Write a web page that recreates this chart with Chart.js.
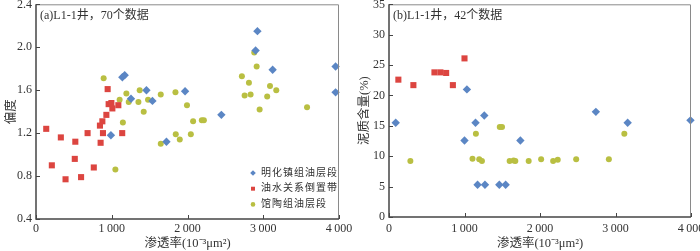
<!DOCTYPE html>
<html>
<head>
<meta charset="utf-8">
<script src="https://cdn.jsdelivr.net/npm/chart.js@4.4.1/dist/chart.umd.min.js"></script>
<style>
    html, body { margin: 0; padding: 0; background: #fff; }
    .wrap { position: relative; width: 700px; height: 251px; overflow: hidden; }
    #skewChart { position: absolute; left: 0; top: 0; }
    #clayChart { position: absolute; left: 350px; top: 0; }
</style>
</head>
<body>
<div class="wrap">
    <canvas id="skewChart" width="362" height="251"></canvas>
    <canvas id="clayChart" width="350" height="251"></canvas>
</div>
<script>
// Series names
const seriesNames = ['明化镇组油层段', '油水关系倒置带', '馆陶组油层段'];

// (a) permeability vs skewness
const skewMingPerm = [1140, 1171, 1254, 1458, 1537, 1968, 989, 1722, 2447, 2923, 2899, 3124, 3955, 3955];
const skewMingVal  = [1.72, 1.74, 1.52, 1.60, 1.50, 1.59, 1.18, 1.12, 1.37, 2.15, 1.97, 1.79, 1.82, 1.58];

const skewInvPerm = [946, 959, 995, 1008, 1087, 929, 876, 844, 135, 328, 519, 681, 884, 853, 1138, 209, 512, 763, 390, 595];
const skewInvVal  = [1.61, 1.47, 1.48, 1.43, 1.46, 1.37, 1.31, 1.27, 1.24, 1.16, 1.12, 1.20, 1.20, 1.11, 1.20, 0.90, 0.96, 0.88, 0.77, 0.79];

const skewGuanPerm = [893, 1193, 1369, 1647, 1841, 1104, 1224, 1352, 1479, 1993, 1422, 1147, 1845, 1898, 1647, 2044, 1048,
                      2074, 2189, 2216, 2881, 2913, 2718, 2811, 3089, 3172, 2754, 2833, 3052, 2952, 3578];
const skewGuanVal  = [1.71, 1.57, 1.60, 1.56, 1.58, 1.51, 1.49, 1.49, 1.51, 1.46, 1.40, 1.30, 1.19, 1.14, 1.10, 1.19, 0.86,
                      1.31, 1.32, 1.32, 1.95, 1.82, 1.73, 1.67, 1.64, 1.60, 1.55, 1.56, 1.54, 1.42, 1.44];

// (b) permeability vs clay content
const clayMingPerm = [89, 1032, 1146, 1262, 1000, 1173, 1271, 1461, 1545, 1740, 2740, 3161, 3993];
const clayMingVal  = [15.5, 21.0, 15.5, 16.7, 12.6, 5.3, 5.3, 5.3, 5.3, 12.6, 17.3, 15.5, 15.9];

const clayInvPerm = [124, 323, 602, 681, 757, 846, 1000];
const clayInvVal  = [22.6, 21.7, 23.8, 23.8, 23.7, 21.7, 26.1];

const clayGuanPerm = [283, 1106, 1151, 1195, 1231, 1467, 1497, 1598, 1651, 1673, 1850, 2015, 2174, 2235, 2479, 2912, 3117];
const clayGuanVal  = [9.2, 9.6, 13.7, 9.5, 9.2, 14.8, 14.8, 9.2, 9.3, 9.2, 9.2, 9.5, 9.2, 9.4, 9.5, 9.5, 13.7];

// Tick labels
const permTicks = ['0', '1\u2009000', '2\u2009000', '3\u2009000', '4\u2009000'];
const skewTicks = ['0.4', '0.8', '1.2', '1.6', '2.0', '2.4'];
const clayTicks = ['0', '5', '10', '15', '20', '25', '30', '35'];

const SERIF = "'Liberation Serif', 'Noto Sans CJK SC', serif";
const TEXT = '#333333';

// Marker styles (blue diamond, red square, green dot)
const markerStyles = [
    { pointStyle: 'rectRot', color: '#5b86c4', radius: 4.2 },
    { pointStyle: 'rect', color: '#dc4540', radius: 4.3 },
    { pointStyle: 'circle', color: '#b9bf42', radius: 3 }
];

function toPoints(xs, ys) {
    return xs.map((x, i) => ({ x: x, y: ys[i] }));
}

function makeDataset(name, xs, ys, style) {
    return {
        label: name,
        data: toPoints(xs, ys),
        pointStyle: style.pointStyle,
        pointRadius: style.radius,
        pointHoverRadius: style.radius,
        pointBackgroundColor: style.color,
        pointBorderColor: style.color,
        pointBorderWidth: 0,
        showLine: false,
        clip: false
    };
}

// Frame, inward ticks, y tick labels, caption and legend
const framePlugin = {
    id: 'frame',
    afterDraw(chart, args, opts) {
        const { ctx, chartArea: a, scales: { x, y } } = chart;
        ctx.save();

        // top / right border
        ctx.strokeStyle = '#8a8a8a';
        ctx.lineWidth = 1;
        ctx.beginPath();
        ctx.moveTo(a.left, a.top + 0.5);
        ctx.lineTo(a.right - 0.5, a.top + 0.5);
        ctx.lineTo(a.right - 0.5, a.bottom);
        ctx.stroke();

        // left / bottom axes
        ctx.strokeStyle = '#454545';
        ctx.lineWidth = 1.5;
        ctx.beginPath();
        ctx.moveTo(a.left, a.top);
        ctx.lineTo(a.left, a.bottom);
        ctx.lineTo(a.right, a.bottom);
        ctx.stroke();

        // inward tick marks
        ctx.lineWidth = 1;
        ctx.beginPath();
        x.ticks.forEach(t => {
            const px = Math.round(x.getPixelForValue(t.value)) + 0.5;
            ctx.moveTo(px, a.bottom);
            ctx.lineTo(px, a.bottom - 4);
        });
        y.ticks.forEach(t => {
            const py = Math.round(y.getPixelForValue(t.value)) + 0.5;
            ctx.moveTo(a.left, py);
            ctx.lineTo(a.left + 4, py);
        });
        ctx.stroke();

        // y tick labels (top one kept inside the canvas)
        ctx.fillStyle = TEXT;
        ctx.font = '12px ' + SERIF;
        ctx.textAlign = 'right';
        ctx.textBaseline = 'middle';
        y.ticks.forEach((t, i) => {
            const py = Math.max(y.getPixelForValue(t.value), 5);
            ctx.fillText(opts.yLabels[i], a.left - 4, py);
        });

        // caption inside plot
        ctx.textAlign = 'left';
        ctx.font = '12px ' + SERIF;
        ctx.fillText(opts.caption, a.left + 4, a.top + 12);

        // legend (only first chart)
        if (opts.legend) {
            ctx.font = '10px ' + SERIF;
            ctx.letterSpacing = '1px';
            chart.data.datasets.forEach((ds, i) => {
                const ly = a.bottom - 46 + i * 15.7;
                const lx = a.right - 86;
                ctx.fillStyle = ds.pointBackgroundColor;
                Chart.helpers.drawPoint(ctx, {
                    pointStyle: ds.pointStyle,
                    radius: i === 2 ? 2.3 : 2.8,
                    rotation: 0,
                    borderWidth: 0
                }, lx, ly);
                ctx.fillStyle = TEXT;
                ctx.fillText(ds.label, lx + 8, ly);
            });
            ctx.letterSpacing = '0px';
        }
        ctx.restore();
    }
};

function buildChart(canvasId, datasets, cfg) {
    return new Chart(document.getElementById(canvasId), {
        type: 'scatter',
        data: { datasets: datasets },
        options: {
            responsive: false,
            animation: false,
            events: [],
            layout: { padding: cfg.padding },
            plugins: {
                legend: { display: false },
                tooltip: { enabled: false },
                frame: { yLabels: cfg.yLabels, caption: cfg.caption, legend: cfg.legend }
            },
            scales: {
                x: {
                    type: 'linear',
                    min: 0,
                    max: 4000,
                    grid: { display: false, drawTicks: false },
                    border: { display: false },
                    ticks: {
                        stepSize: 1000,
                        padding: cfg.xPad,
                        color: TEXT,
                        font: { family: SERIF, size: 12 },
                        maxRotation: 0,
                        callback: (v, i) => permTicks[i]
                    },
                    title: {
                        display: true,
                        text: '渗透率(10⁻³μm²)',
                        color: TEXT,
                        font: { family: SERIF, size: 12.5 },
                        padding: { top: 0, bottom: 0 }
                    },
                    afterFit: s => {
                        s.height = cfg.xHeight;
                        s.paddingLeft = s.paddingRight = s.paddingTop = s.paddingBottom = 0;
                    }
                },
                y: {
                    type: 'linear',
                    min: cfg.yMin,
                    max: cfg.yMax,
                    grid: { display: false, drawTicks: false },
                    border: { display: false },
                    ticks: { stepSize: cfg.yStep, display: false },
                    title: {
                        display: true,
                        text: cfg.yTitle,
                        color: TEXT,
                        font: { family: SERIF, size: 12.5 },
                        padding: { top: cfg.yTitlePad, bottom: 0 }
                    },
                    afterFit: s => {
                        s.width = cfg.yWidth;
                        s.paddingLeft = s.paddingRight = s.paddingTop = s.paddingBottom = 0;
                    }
                }
            }
        },
        plugins: [framePlugin]
    });
}

document.addEventListener('DOMContentLoaded', () => {
    // (a) 偏度 - canvas a bit wider so "4 000" is not cut
    buildChart('skewChart', [
        makeDataset(seriesNames[0], skewMingPerm, skewMingVal, markerStyles[0]),
        makeDataset(seriesNames[1], skewInvPerm, skewInvVal, markerStyles[1]),
        makeDataset(seriesNames[2], skewGuanPerm, skewGuanVal, markerStyles[2])
    ], {
        padding: { left: 0, right: 23, top: 1, bottom: 0 },
        yMin: 0.4, yMax: 2.4, yStep: 0.4,
        yLabels: skewTicks,
        yTitle: '偏度',
        yTitlePad: 4,
        yWidth: 36,
        xHeight: 32,
        xPad: 3,
        caption: '(a)L1-1井，70个数据',
        legend: true
    });

    // (b) 泥质含量
    buildChart('clayChart', [
        makeDataset(seriesNames[0], clayMingPerm, clayMingVal, markerStyles[0]),
        makeDataset(seriesNames[1], clayInvPerm, clayInvVal, markerStyles[1]),
        makeDataset(seriesNames[2], clayGuanPerm, clayGuanVal, markerStyles[2])
    ], {
        padding: { left: 0, right: 9, top: 1, bottom: 0 },
        yMin: 0, yMax: 35, yStep: 5,
        yLabels: clayTicks,
        yTitle: '泥质含量(%)',
        yTitlePad: 7,
        yWidth: 39,
        xHeight: 34,
        xPad: 5,
        caption: '(b)L1-1井，42个数据',
        legend: false
    });
});
</script>
</body>
</html>
